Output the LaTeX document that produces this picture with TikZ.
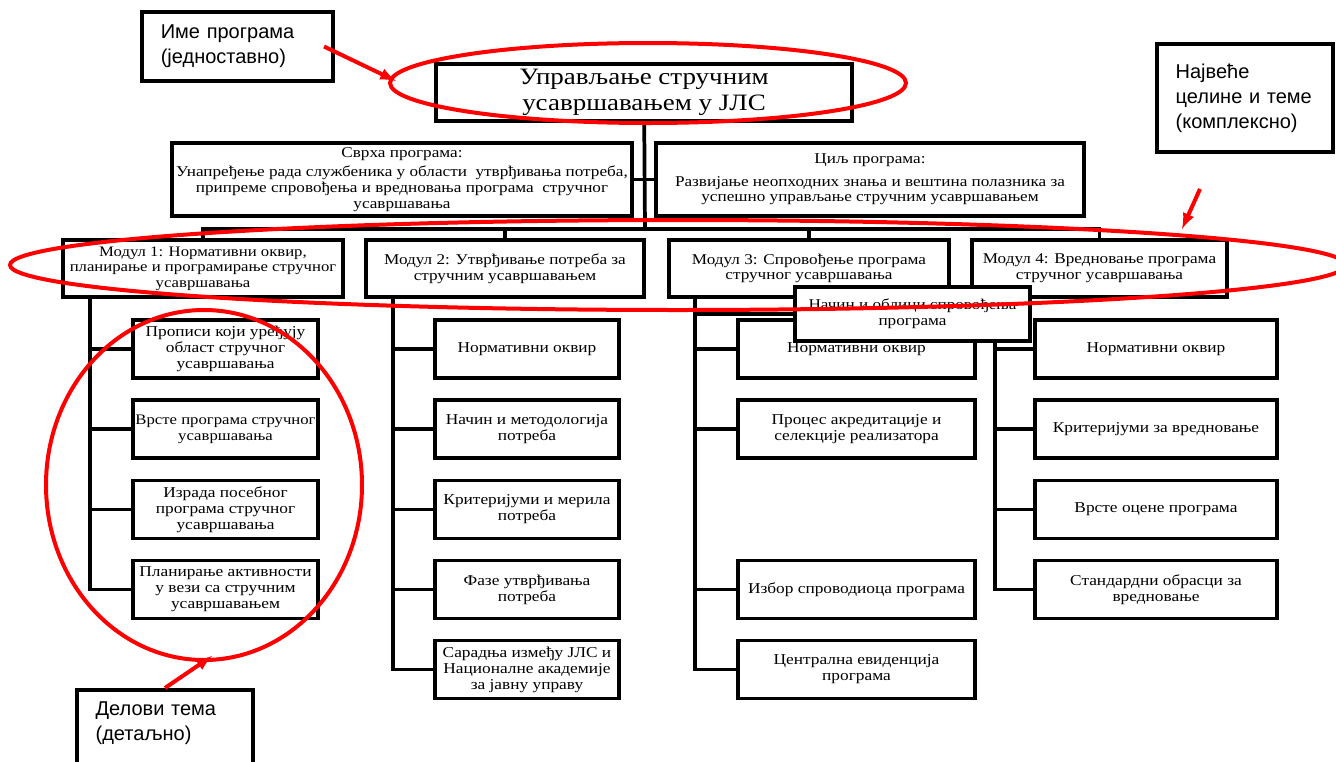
\documentclass[tikz,border=0pt]{standalone}
\usepackage{fontspec}
\setmainfont[FakeStretch=1.15]{Liberation Serif}
\newfontfamily\callfont{Liberation Sans}
\usetikzlibrary{positioning,calc}

\tikzset{
  box/.style={draw,line width=2.8pt,fill=white,align=center,inner sep=0.5pt,font=\fontsize{11.2}{11.8}\selectfont},
  subbox/.style={box,minimum height=43.5pt,font=\fontsize{11.3}{12}\selectfont},
  callout/.style={draw,line width=2.8pt,fill=white,align=left,inner xsep=14pt,font=\callfont\fontsize{15}{18.75}\selectfont},
  link/.style={line width=2.8pt},
  redline/.style={red,line width=3pt},
  redarrow/.style={redline,->,>=latex}
}

\begin{document}
\begin{tikzpicture}[x=0.75pt,y=-0.75pt]
  \useasboundingbox (0,0) rectangle (1336,761);
  % Programm
  \node[box,minimum width=312pt,minimum height=42.75pt,font=\fontsize{17.6}{19}\selectfont] (title) at (644,92.5) {Управљање стручним\\усавршавањем у ЈЛС};
  \node[box,minimum width=345pt,minimum height=54.75pt] (svrha) at (402,179.5) {Сврха програма:\\[3pt]Унапређење рада службеника у области\ \ утврђивања потреба,\\припреме спровођења и вредновања програма\ \ стручног\\усавршавања};
  \node[box,minimum width=321pt,minimum height=54.75pt] (cilj) at (870,179.5) {Циљ програма:\\[5pt]Развијање неопходних знања и вештина полазника за\\успешно управљање стручним усавршавањем};
  % Module
  \node[box,minimum width=210pt,minimum height=42.75pt,font=\fontsize{10.9}{11.8}\selectfont] (m1) at (203,268.5) {Модул 1: Нормативни оквир,\\планирање и програмирање стручног\\усавршавања};
  \node[box,minimum width=208.5pt,minimum height=42.75pt] (m2) at (505,268.5) {Модул 2: Утврђивање потреба за\\стручним усавршавањем};
  \node[box,minimum width=210pt,minimum height=42.75pt] (m3) at (809,268.5) {Модул 3: Спровођење програма\\стручног усавршавања};
  \node[box,minimum width=191.25pt,minimum height=42.75pt] (m4) at (1099.5,268.5) {Модул 4: Вредновање програма\\стручног усавршавања};
  % Modul 1
  \node[subbox,minimum width=138.75pt] (a1) at (225.5,349) {Прописи који уређују\\област стручног\\усавршавања};
  \node[subbox,minimum width=138.75pt,font=\fontsize{10.9}{12}\selectfont] (a2) at (225.5,429) {Врсте програма стручног\\усавршавања};
  \node[subbox,minimum width=138.75pt] (a3) at (225.5,509.5) {Израда посебног\\програма стручног\\усавршавања};
  \node[subbox,minimum width=138.75pt] (a4) at (225.5,589.5) {Планирање активности\\у вези са стручним\\усавршавањем};
  % Modul 2
  \node[subbox,minimum width=138pt] (b1) at (527,349) {Нормативни оквир};
  \node[subbox,minimum width=138pt] (b2) at (527,429) {Начин и методологија\\потреба};
  \node[subbox,minimum width=138pt] (b3) at (527,509.5) {Критеријуми и мерила\\потреба};
  \node[subbox,minimum width=138pt] (b4) at (527,589.5) {Фазе утврђивања\\потреба};
  \node[subbox,minimum width=138pt] (b5) at (527,669.5) {Сарадња између ЈЛС и\\Националне академије\\за јавну управу};
  % Modul 3
  \node[subbox,minimum width=177.75pt] (c1) at (856.5,349) {Нормативни оквир};
  \node[subbox,minimum width=177.75pt] (c2) at (856.5,429) {Процес акредитације и\\селекције реализатора};
  \node[subbox,minimum width=177.75pt] (c4) at (856.5,589.5) {Избор спроводиоца програма};
  \node[subbox,minimum width=177.75pt] (c5) at (856.5,669.5) {Централна евиденција\\програма};
  % Modul 4
  \node[subbox,minimum width=181.5pt] (d1) at (1156,349) {Нормативни оквир};
  \node[subbox,minimum width=181.5pt] (d2) at (1156,429) {Критеријуми за вредновање};
  \node[subbox,minimum width=181.5pt] (d3) at (1156,509.5) {Врсте оцене програма};
  \node[subbox,minimum width=181.5pt] (d4) at (1156,589.5) {Стандардни обрасци за\\вредновање};
  % Verbindungen
  \coordinate (bus) at (645,229);
  \draw[link] (title) -- (bus);
  \draw[link] (svrha) -- (cilj);
  \draw[link] (m1) |- (bus);
  \draw[link] (m2) |- (bus);
  \draw[link] (m3) |- (bus);
  \draw[link] (m4) |- (bus);
  \draw[link] ([xshift=21.75pt]m1.south west) |- (a1);
  \draw[link] ([xshift=21.75pt]m1.south west) |- (a2);
  \draw[link] ([xshift=21.75pt]m1.south west) |- (a3);
  \draw[link] ([xshift=21.75pt]m1.south west) |- (a4);
  \draw[link] ([xshift=21.75pt]m2.south west) |- (b1);
  \draw[link] ([xshift=21.75pt]m2.south west) |- (b2);
  \draw[link] ([xshift=21.75pt]m2.south west) |- (b3);
  \draw[link] ([xshift=21.75pt]m2.south west) |- (b4);
  \draw[link] ([xshift=21.75pt]m2.south west) |- (b5);
  \draw[link] ([xshift=21pt]m3.south west) |- (c1);
  \draw[link] ([xshift=21pt]m3.south west) |- (c2);
  \draw[link] ([xshift=21pt]m3.south west) |- (c4);
  \draw[link] ([xshift=21pt]m3.south west) |- (c5);
  \draw[link] ([xshift=18.75pt]m4.south west) |- (d1);
  \draw[link] ([xshift=18.75pt]m4.south west) |- (d2);
  \draw[link] ([xshift=18.75pt]m4.south west) |- (d3);
  \draw[link] ([xshift=18.75pt]m4.south west) |- (d4);
  % Kasten ueber Modul 3 und 4
  \node[box,minimum width=176.25pt,minimum height=40.5pt] (nacin) at (912.5,314) {Начин и облици спровођења\\програма};
  \draw[link] ([xshift=21pt]m3.south west) |- (nacin);
  % Hinweise
  \node[callout,text width=115pt,minimum height=51.75pt] (call1) at (237.5,46.5) {Име програма\\(једноставно)};
  \node[callout,text width=104pt,minimum height=81pt] (call2) at (1245,98) {Највеће\\целине и теме\\(комплексно)};
  \node[callout,text width=104pt,anchor=north,inner ysep=9pt] (call3) at (165,688) {Делови тема\\(детаљно)\\\mbox{}};
  % rote Markierungen
  \draw[redline] (648,83) ellipse [x radius=258, y radius=40];
  \draw[redline] (678,265) ellipse [x radius=668, y radius=45];
  \draw[redline] (204,485) ellipse [x radius=158, y radius=175];
  \coordinate (tip1) at (396,81);
  \coordinate (tail2) at (1200,189);
  \coordinate (tip2) at (1182,229);
  \coordinate (tip3) at (212,656);
  \draw[redarrow] ([xshift=-8pt]call1.east) -- (tip1);
  \draw[redarrow] (tail2) -- (tip2);
  \draw[redarrow] (call3.north) -- (tip3);
\end{tikzpicture}
\end{document}
